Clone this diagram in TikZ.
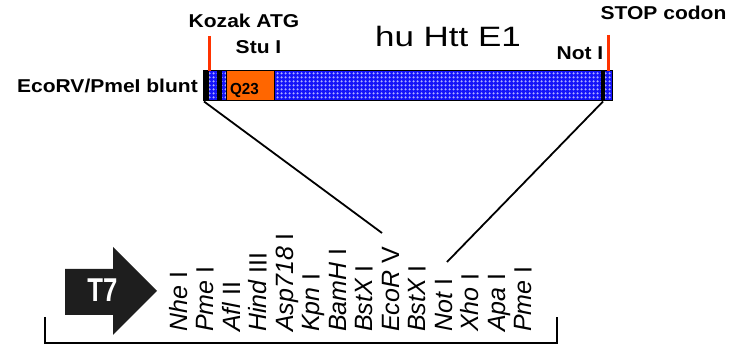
\documentclass[tikz,border=0pt]{standalone}
\usepackage{fontspec}
\setmainfont{Liberation Sans}
\usetikzlibrary{patterns}
\definecolor{barblue}{RGB}{20,20,250}
\definecolor{dotblue}{RGB}{190,190,255}
\definecolor{markred}{RGB}{255,51,0}
\definecolor{qorange}{RGB}{255,102,0}
\definecolor{arrowblack}{RGB}{30,30,30}
\pgfdeclarepatternformonly{bluediamonds}{\pgfqpoint{0pt}{0pt}}{\pgfqpoint{4pt}{4pt}}{\pgfqpoint{4pt}{4pt}}{%
  \pgfpathmoveto{\pgfqpoint{2pt}{0.6pt}}%
  \pgfpathlineto{\pgfqpoint{3.4pt}{2pt}}%
  \pgfpathlineto{\pgfqpoint{2pt}{3.4pt}}%
  \pgfpathlineto{\pgfqpoint{0.6pt}{2pt}}%
  \pgfpathclose
  \pgfpathmoveto{\pgfqpoint{2pt}{1.4pt}}%
  \pgfpathlineto{\pgfqpoint{1.4pt}{2pt}}%
  \pgfpathlineto{\pgfqpoint{2pt}{2.6pt}}%
  \pgfpathlineto{\pgfqpoint{2.6pt}{2pt}}%
  \pgfpathclose
  \pgfusepath{fill}}
\tikzset{
  boldlbl/.style={inner sep=0pt, anchor=base, xscale=1.13, font=\fontsize{18.6}{20}\selectfont\bfseries},
  sitelbl/.style={inner sep=0pt, anchor=base west, rotate=90, font=\fontsize{25}{27}\selectfont},
  band/.style={fill=black, draw=none},
  redmark/.style={draw=markred, line width=3.5pt},
  zoomline/.style={draw=black, line width=1.8pt},
}
\begin{document}
\begin{tikzpicture}[x=1pt, y=-1pt]
\useasboundingbox (0,0) rectangle (737,347);
% construct bar
\fill[barblue] (203,71) rectangle (612,101);
\path[pattern=bluediamonds, pattern color=dotblue] (203,71) rectangle (612,101);
\node[band, minimum width=6pt, minimum height=30pt, inner sep=0pt] (bandL) at (206,86) {};
\node[band, minimum width=5pt, minimum height=30pt, inner sep=0pt] (bandS) at (219.5,86) {};
\node[band, minimum width=4pt, minimum height=30pt, inner sep=0pt] (bandN) at (603,86) {};
\node[draw=black, line width=1pt, fill=qorange, minimum width=48pt, minimum height=30pt, inner sep=0pt] (q23) at (250,86) {};
\node[inner sep=0pt, anchor=base, xscale=0.95, font=\fontsize{16}{17}\selectfont\bfseries] (q23t) at (244.5,94.5) {Q23};
\draw[black, line width=1pt] (203,71) rectangle (612,101);
\coordinate (barBL) at (204,101.5);
\coordinate (barBR) at (603,101.5);
% red marks
\coordinate (kozTop) at (209.5,36);
\coordinate (kozBot) at (209.5,71);
\coordinate (stopTop) at (608.5,35);
\coordinate (stopBot) at (608.5,71);
\draw[redmark] (kozTop) -- (kozBot);
\draw[redmark] (stopTop) -- (stopBot);
% labels
\node[boldlbl] (kozak) at (244,28) {Kozak ATG};
\node[boldlbl] (stu) at (258.5,53.3) {Stu I};
\node[boldlbl, anchor=base east] (eco) at (198,93) {EcoRV/PmeI blunt};
\node[boldlbl] (noti) at (580,60) {Not I};
\node[boldlbl] (stop) at (663.5,20) {STOP codon};
\node[inner sep=0pt, anchor=base, xscale=1.25, font=\fontsize{28}{30}\selectfont] (hu) at (448,47) {hu Htt E1};
% zoom lines
\coordinate (ecoEnd) at (382,233);
\coordinate (notEnd) at (447,262);
\draw[zoomline] (barBL) -- (ecoEnd);
\draw[zoomline] (barBR) -- (notEnd);
% T7 arrow
\fill[arrowblack] (65,269) -- (113,269) -- (113,247) -- (157,291) -- (113,335) -- (113,315) -- (65,315) -- cycle;
\node[inner sep=0pt, anchor=base, xscale=0.78, text=white, font=\fontsize{33}{34}\selectfont\bfseries] (t7) at (102.5,302) {T7};
% bracket
\coordinate (brL) at (45,317);
\coordinate (brR) at (557,317);
\draw[black, line width=1.8pt] (brL) -- (45,343) -- (557,343) -- (brR);
% sites
\foreach \name [count=\i from 0] in {%
  {\itshape Nhe} I, {\itshape Pme} I, {\itshape Afl} II, {\itshape Hind} III,
  {\itshape Asp718} I, {\itshape Kpn} I, {\itshape BamH} I, {\itshape BstX} I,
  {\itshape EcoR} V, {\itshape BstX} I, {\itshape Not} I, {\itshape Xho} I,
  {\itshape Apa} I, {\itshape Pme} I}
  \node[sitelbl] (site\i) at ({187+26.5*\i},332) {\name};
\end{tikzpicture}
\end{document}
